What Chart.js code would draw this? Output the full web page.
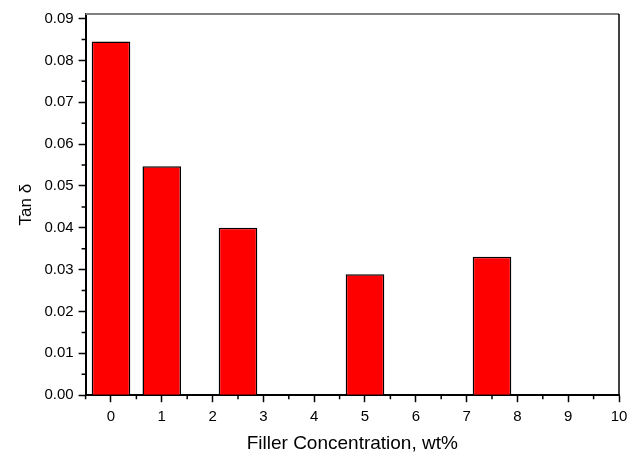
<!DOCTYPE html>
<html>
<head>
<meta charset="utf-8">
<script src="https://cdn.jsdelivr.net/npm/chart.js@4/dist/chart.umd.min.js"></script>
<style>
  html, body { margin: 0; padding: 0; background: #fff; }
  #wrap { width: 641px; height: 457px; }
</style>
</head>
<body>
<div id="wrap"><canvas id="c"></canvas></div>
<script>
// filler loading (wt%) and measured tan delta
const concentration = [0, 1, 2.5, 5, 7.5];
const tanDelta = [0.0845, 0.0547, 0.0400, 0.0289, 0.0331];

const xTicks = [0, 1, 2, 3, 4, 5, 6, 7, 8, 9, 10];
const yTicks = [0, 0.01, 0.02, 0.03, 0.04, 0.05, 0.06, 0.07, 0.08, 0.09];
const xMinor = [-0.5, 0.5, 1.5, 2.5, 3.5, 4.5, 5.5, 6.5, 7.5, 8.5, 9.5];
const yMinor = [0.005, 0.015, 0.025, 0.035, 0.045, 0.055, 0.065, 0.075, 0.085];

const FONT = '"Liberation Sans", Arial, Helvetica, sans-serif';

// short minor ticks + top/right frame
const frame = {
  id: 'frame',
  afterDraw(chart) {
    const { ctx, chartArea: a, scales } = chart;
    ctx.save();
    ctx.strokeStyle = '#000';
    ctx.lineWidth = 1.5;
    ctx.beginPath();
    xMinor.forEach(v => {
      const px = scales.x.getPixelForValue(v);
      ctx.moveTo(px, a.bottom);
      ctx.lineTo(px, a.bottom + 4);
    });
    yMinor.forEach(v => {
      const py = scales.y.getPixelForValue(v);
      ctx.moveTo(a.left, py);
      ctx.lineTo(a.left - 4, py);
    });
    ctx.stroke();

    ctx.strokeStyle = '#808080';
    ctx.lineWidth = 2;
    ctx.beginPath();
    ctx.moveTo(a.left, a.top);
    ctx.lineTo(a.right, a.top);
    ctx.stroke();

    ctx.strokeStyle = '#000';
    ctx.lineWidth = 1.5;
    ctx.beginPath();
    ctx.moveTo(a.right, a.top);
    ctx.lineTo(a.right, a.bottom);
    ctx.stroke();
    ctx.restore();
  }
};

new Chart(document.getElementById('c'), {
  type: 'bar',
  data: {
    datasets: [{
      data: concentration.map((x, i) => ({ x: x, y: tanDelta[i] })),
      backgroundColor: '#ff0000',
      borderColor: '#000',
      borderWidth: 1.5,
      barPercentage: 0.76,
      categoryPercentage: 1
    }]
  },
  options: {
    responsive: true,
    maintainAspectRatio: false,
    animation: false,
    layout: { padding: { top: 11, right: 22, left: 12, bottom: 2 } },
    plugins: { legend: { display: false }, tooltip: { enabled: false } },
    scales: {
      x: {
        type: 'linear',
        min: -0.5,
        max: 10,
        offset: false,
        afterBuildTicks: s => { s.ticks = xTicks.map(v => ({ value: v })); },
        grid: { offset: false, drawOnChartArea: false, tickLength: 7, tickColor: '#000', tickWidth: 1.5 },
        border: { color: '#000', width: 2 },
        ticks: { color: '#000', font: { family: FONT, size: 15 }, padding: 6, maxRotation: 0 },
        title: { display: true, text: 'Filler Concentration, wt%', color: '#000', font: { family: FONT, size: 19 }, padding: { top: 0, bottom: 0 } }
      },
      y: {
        min: 0,
        max: 0.0911,
        afterBuildTicks: s => { s.ticks = yTicks.map(v => ({ value: v })); },
        grid: { drawOnChartArea: false, tickLength: 7, tickColor: '#000', tickWidth: 1.5 },
        border: { color: '#000', width: 2 },
        ticks: { color: '#000', font: { family: FONT, size: 15 }, padding: 5, callback: v => v.toFixed(2) },
        title: { display: true, text: 'Tan δ', color: '#000', font: { family: FONT, size: 17 }, padding: { top: 4, bottom: 3 } }
      }
    }
  },
  plugins: [frame]
});
</script>
</body>
</html>
